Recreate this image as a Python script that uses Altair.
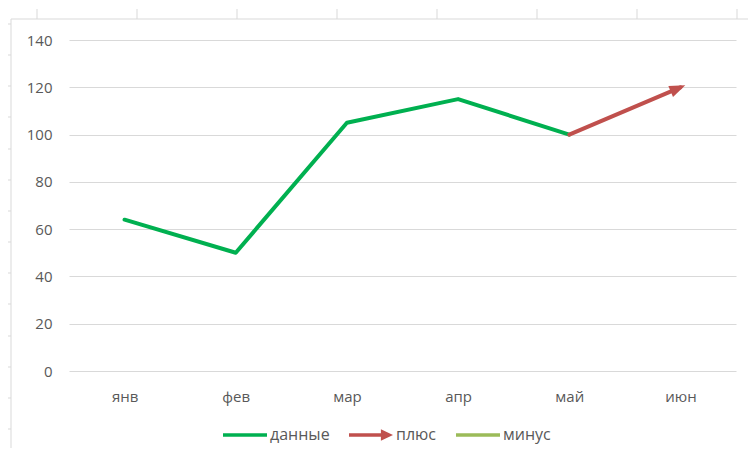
import math
import altair as alt
import pandas as pd

# ---- data ----
months = ["янв", "фев", "мар", "апр", "май", "июн"]
data_values = [64, 50, 105, 115, 100, None]
plus_values = [None, None, None, None, 100, 120]
minus_values = [None, None, None, None, None, None]
series_names = ["данные", "плюс", "минус"]
series_colors = ["#00b050", "#c0504d", "#9bbb59"]
y_ticks = [0, 20, 40, 60, 80, 100, 120, 140]

rows = []
for name, vals in zip(series_names, [data_values, plus_values, minus_values]):
    for m, v in zip(months, vals):
        if v is not None:
            rows.append({"month": m, "value": v, "series": name})
df = pd.DataFrame(rows)

W, H = 667, 331
YMAX = 140
FONT = "Open Sans"
TXT = "#595959"
GRID = "#d9d9d9"

x_enc = alt.X(
    "month:N",
    sort=months,
    scale=alt.Scale(domain=months, type="point", padding=0.5),
    axis=alt.Axis(title=None, labelAngle=0, domain=False, ticks=False,
                  labelPadding=18, grid=False),
)
y_enc = alt.Y(
    "value:Q",
    scale=alt.Scale(domain=[0, YMAX], nice=False, zero=True),
    axis=alt.Axis(title=None, values=y_ticks, domain=False, ticks=False,
                  labelPadding=17, grid=True, gridColor=GRID, gridWidth=1),
)
color_scale = alt.Scale(domain=series_names, range=series_colors)

series_layers = []
for name, col in zip(series_names, series_colors):
    sub = df[df["series"] == name]
    if len(sub):
        series_layers.append(
            alt.Chart(sub).mark_line(
                color=col, strokeWidth=4, strokeCap="round", strokeJoin="round"
            ).encode(x=x_enc, y=y_enc)
        )

# arrow head at the end of the "плюс" series
step = W / len(months)
dy_px = (plus_values[5] - plus_values[4]) * H / YMAX
arrow_angle = (360 - math.degrees(math.atan2(dy_px, step))) % 360
arrow_df = df[df["series"] == "плюс"].tail(1)
arrow = alt.Chart(arrow_df).mark_point(
    filled=True, opacity=1, size=700, angle=arrow_angle, color=series_colors[1],
    shape="M-0.8,-0.45L0.4,0L-0.8,0.45Z",
).encode(x=x_enc, y=y_enc)

# legend (symbols only in the legend; carrier marks have size 0)
legend_shapes = [
    "M-1,-0.08H1V0.08H-1Z",
    "M-1,-0.08H0.45V-0.26L1,0L0.45,0.26V0.08H-1Z",
    "M-1,-0.08H1V0.08H-1Z",
]
leg = dict(orient="none", legendX=154, legendY=373, direction="horizontal",
           title=None, symbolSize=1936, symbolStrokeWidth=0, labelOffset=3,
           columnPadding=19, labelFont=FONT, labelFontSize=16,
           labelColor=TXT, padding=0, symbolOpacity=1)
carrier = alt.Chart(df).mark_point(filled=True, size=0, opacity=1).encode(
    x=x_enc, y=y_enc,
    color=alt.Color("series:N", scale=color_scale, legend=alt.Legend(**leg)),
    shape=alt.Shape("series:N",
                    scale=alt.Scale(domain=series_names, range=legend_shapes),
                    legend=alt.Legend(**leg)),
)

# spreadsheet frame decoration around the chart
one = pd.DataFrame({"k": [0]})
FRAME = "#d9d9d9"
deco = [
    alt.Chart(one).mark_rule(color=FRAME, strokeWidth=1).encode(
        x=alt.value(-58), y=alt.value(-21), y2=alt.value(410)),
    alt.Chart(one).mark_rule(color=FRAME, strokeWidth=1).encode(
        x=alt.value(-58), x2=alt.value(679), y=alt.value(-21)),
]
for k in range(8):
    deco.append(alt.Chart(one).mark_rule(color=FRAME, strokeWidth=1).encode(
        x=alt.value(-32 + 100 * k), y=alt.value(-31), y2=alt.value(-21)))
for k in range(14):
    yy = round(-16 + 31.15 * k)
    deco.append(alt.Chart(one).mark_rule(color=FRAME, strokeWidth=1).encode(
        x=alt.value(-61), x2=alt.value(-58), y=alt.value(yy)))

chart = alt.layer(*deco, *series_layers, arrow, carrier).properties(
    width=W, height=H,
    autosize=alt.AutoSizeParams(type="none"),
    padding={"left": 61, "top": 32, "right": 12, "bottom": 77},
).configure_view(stroke=None).configure_axis(
    labelFont=FONT, labelFontSize=15, labelColor=TXT,
).configure_legend(labelFont=FONT, labelFontSize=16, labelColor=TXT)

chart.save("out.html", embed_options={"renderer": "svg", "actions": False})
